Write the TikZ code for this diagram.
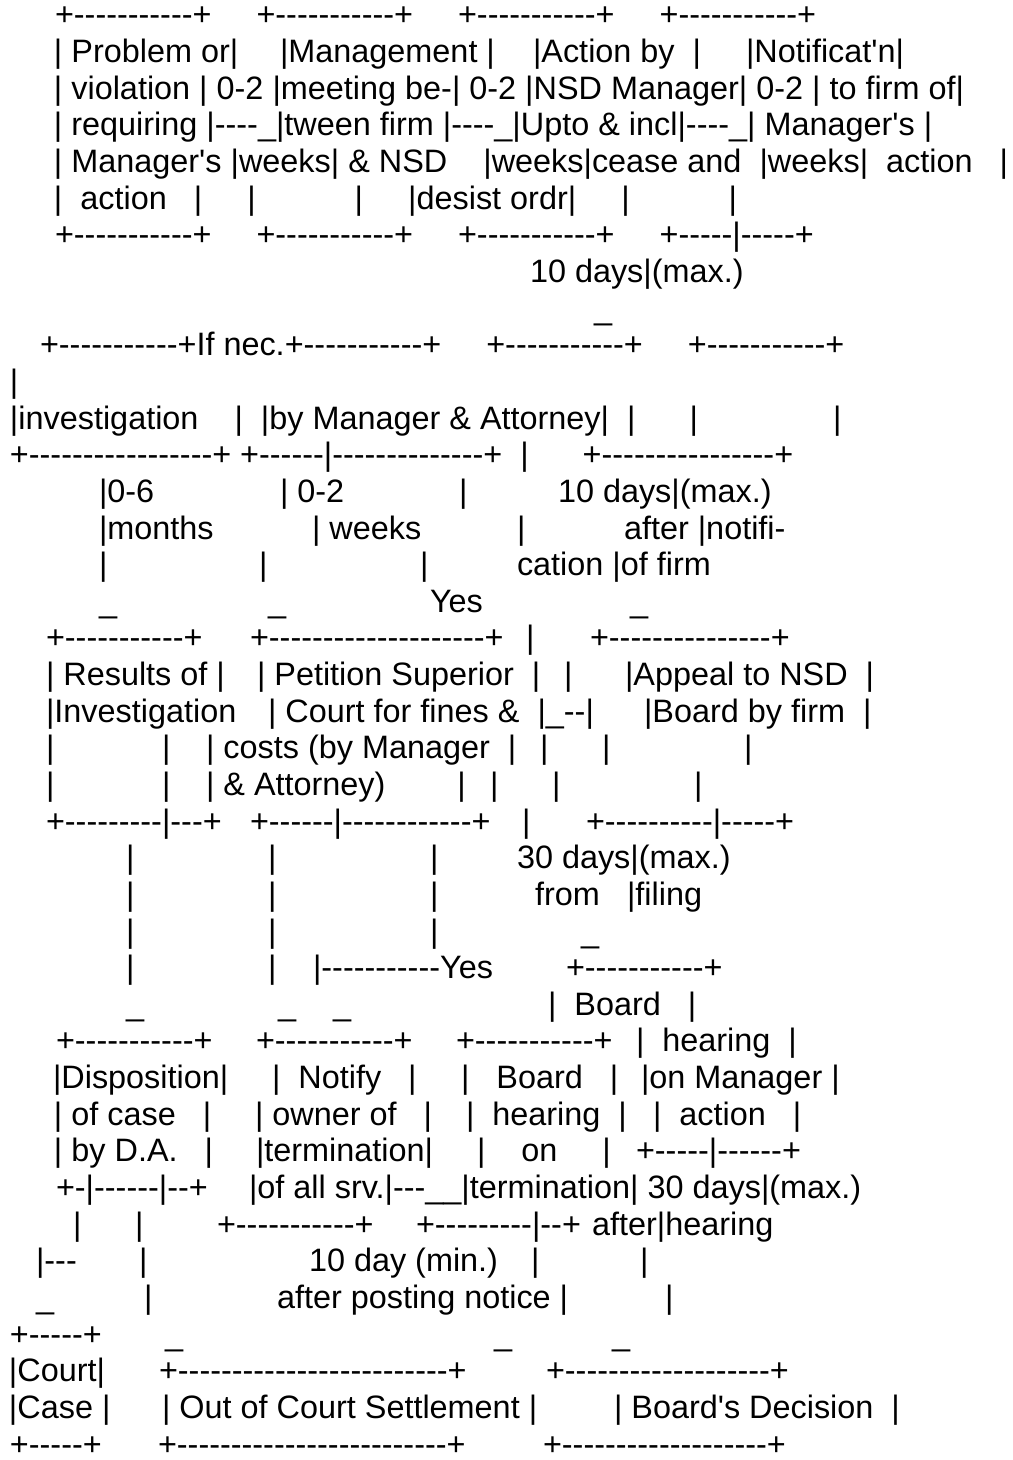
\documentclass[tikz,border=0pt]{standalone}
\usepackage{fontspec}
\newfontfamily\asc{Liberation Sans}
\begin{document}
\begin{tikzpicture}[x=0.5pt,y=-0.5pt,
  txt/.style={anchor=base west,inner sep=0pt,outer sep=0pt,font=\asc\fontsize{16.2pt}{19pt}\selectfont}]
\useasboundingbox[fill=white] (0,0) rectangle (1012,1460);
% 1
\node[txt] (r1) at (55,26) {+-----------+~~~~~+-----------+~~~~~+-----------+~~~~~+-----------+};
% 2
\node[txt] (r2a) at (54,62.6) {|~Problem~or|};
\node[txt] (r2b) at (280,62.6) {|Management~|};
\node[txt] (r2c) at (533,62.6) {|Action~by~~|};
\node[txt] (r2d) at (746,62.6) {|Notificat'n|};
% 3
\node[txt] (r3) at (54,99.3) {|~violation~|~0-2~|meeting~be-|~0-2~|NSD~Manager|~0-2~|~to~firm~of|};
% 4
\node[txt] (r4) at (54,135.9) {|~requiring~|----\_|tween~firm~|----\_|Upto~\&~incl|----\_|~Manager's~|};
% 5
\node[txt] (r5) at (54,172.6) {|~Manager's~|weeks|~\&~NSD~~~~|weeks|cease~and~~|weeks|~~action~~~|};
% 6
\node[txt] (r6) at (54,209.2) {|~~action~~~|~~~~~|~~~~~~~~~~~|~~~~~|desist~ordr|~~~~~|~~~~~~~~~~~|};
% 7
\node[txt] (r7) at (55,245.8) {+-----------+~~~~~+-----------+~~~~~+-----------+~~~~~+-----|-----+};
% 8-9
\node[txt] (r8) at (530,282.5) {10~days|(max.)};
\node[txt] (r9) at (594,319.1) {\_};
% 10
\node[txt] (r10) at (40,355.8) {+-----------+If~nec.+-----------+~~~~~+-----------+~~~~~+-----------+};
% 11
\node[txt] (r11) at (10,392.4) {|};
% 12
\node[txt] (r12) at (10,429) {|investigation~~~~|~~|by~Manager~\&~Attorney|~~|~~~~~~|~~~~~~~~~~~~~~~|};
% 13
\node[txt] (r13) at (10,465.7) {+-----------------+~+------|--------------+~~|~~~~~~+----------------+};
% 14
\node[txt] (r14a) at (99,502.3) {|0-6};
\node[txt] (r14b) at (280,502.3) {|~0-2};
\node[txt] (r14c) at (459,502.3) {|};
\node[txt] (r14d) at (558,502.3) {10~days|(max.)};
% 15
\node[txt] (r15a) at (99,539) {|months};
\node[txt] (r15b) at (312,539) {|~weeks};
\node[txt] (r15c) at (517,539) {|};
\node[txt] (r15d) at (624,539) {after~|notifi-};
% 16
\node[txt] (r16a) at (99,575.6) {|};
\node[txt] (r16b) at (259,575.6) {|};
\node[txt] (r16c) at (420,575.6) {|};
\node[txt] (r16d) at (517,575.6) {cation~|of~firm};
% 17
\node[txt] (r17a) at (99,612.2) {\_};
\node[txt] (r17b) at (268,612.2) {\_};
\node[txt] (r17c) at (430,612.2) {Yes};
\node[txt] (r17d) at (630,612.2) {\_};
% 18
\node[txt] (r18a) at (46,648.9) {+-----------+};
\node[txt] (r18b) at (250,648.9) {+--------------------+};
\node[txt] (r18c) at (526,648.9) {|};
\node[txt] (r18d) at (590,648.9) {+---------------+};
% 19
\node[txt] (r19a) at (46,685.5) {|~Results~of~|};
\node[txt] (r19b) at (257,685.5) {|~Petition~Superior~~|};
\node[txt] (r19c) at (564,685.5) {|};
\node[txt] (r19d) at (625,685.5) {|Appeal~to~NSD~~|};
% 20
\node[txt] (r20a) at (46,722.2) {|Investigation};
\node[txt] (r20b) at (268,722.2) {|~Court~for~fines~\&~~|\_--|};
\node[txt] (r20c) at (644,722.2) {|Board~by~firm~~|};
% 21
\node[txt] (r21a) at (46,758.8) {|};
\node[txt] (r21b) at (162,758.8) {|};
\node[txt] (r21c) at (206,758.8) {|~costs~(by~Manager~~|};
\node[txt] (r21d) at (540,758.8) {|};
\node[txt] (r21e) at (602,758.8) {|};
\node[txt] (r21f) at (744,758.8) {|};
% 22
\node[txt] (r22a) at (46,795.4) {|};
\node[txt] (r22b) at (162,795.4) {|};
\node[txt] (r22c) at (206,795.4) {|~\&~Attorney)~~~~~~~~|};
\node[txt] (r22d) at (490,795.4) {|};
\node[txt] (r22e) at (552,795.4) {|};
\node[txt] (r22f) at (694,795.4) {|};
% 23
\node[txt] (r23a) at (46,832.1) {+---------|---+};
\node[txt] (r23b) at (250,832.1) {+------|------------+};
\node[txt] (r23c) at (522,832.1) {|};
\node[txt] (r23d) at (586,832.1) {+----------|-----+};
% 24
\node[txt] (r24a) at (126,868.7) {|};
\node[txt] (r24b) at (268,868.7) {|};
\node[txt] (r24c) at (430,868.7) {|};
\node[txt] (r24d) at (517,868.7) {30~days|(max.)};
% 25
\node[txt] (r25a) at (126,905.4) {|};
\node[txt] (r25b) at (268,905.4) {|};
\node[txt] (r25c) at (430,905.4) {|};
\node[txt] (r25d) at (535,905.4) {from};
\node[txt] (r25e) at (627,905.4) {|filing};
% 26
\node[txt] (r26a) at (126,942) {|};
\node[txt] (r26b) at (268,942) {|};
\node[txt] (r26c) at (430,942) {|};
\node[txt] (r26d) at (581,942) {\_};
% 27
\node[txt] (r27a) at (126,978.6) {|};
\node[txt] (r27b) at (268,978.6) {|};
\node[txt] (r27c) at (313,978.6) {|-----------Yes};
\node[txt] (r27d) at (566,978.6) {+-----------+};
% 28
\node[txt] (r28a) at (126,1015.3) {\_};
\node[txt] (r28b) at (278,1015.3) {\_};
\node[txt] (r28c) at (333,1015.3) {\_};
\node[txt] (r28d) at (548,1015.3) {|~~Board~~~|};
% 29
\node[txt] (r29a) at (56,1051.9) {+-----------+};
\node[txt] (r29b) at (256,1051.9) {+-----------+};
\node[txt] (r29c) at (456,1051.9) {+-----------+};
\node[txt] (r29d) at (636,1051.9) {|~~hearing~~|};
% 30
\node[txt] (r30a) at (53,1088.6) {|Disposition|};
\node[txt] (r30b) at (272,1088.6) {|~~Notify~~~|};
\node[txt] (r30c) at (461,1088.6) {|~~~Board~~~|};
\node[txt] (r30d) at (641,1088.6) {|on~Manager~|};
% 31
\node[txt] (r31a) at (54,1125.2) {|~of~case~~~|};
\node[txt] (r31b) at (255,1125.2) {|~owner~of~~~|};
\node[txt] (r31c) at (466,1125.2) {|~~hearing~~|};
\node[txt] (r31d) at (653,1125.2) {|~~action~~~|};
% 32
\node[txt] (r32a) at (54,1161.8) {|~by~D.A.~~~|};
\node[txt] (r32b) at (256,1161.8) {|termination|};
\node[txt] (r32c) at (477,1161.8) {|~~~~on~~~~~|};
\node[txt] (r32d) at (636,1161.8) {+-----|------+};
% 33
\node[txt] (r33a) at (56,1198.5) {+-|------|--+};
\node[txt] (r33b) at (249,1198.5) {|of~all~srv.|---\_\_|termination|~30~days|(max.)};
% 34
\node[txt] (r34a) at (73,1235.1) {|};
\node[txt] (r34b) at (135,1235.1) {|};
\node[txt] (r34c) at (217,1235.1) {+-----------+};
\node[txt] (r34d) at (416,1235.1) {+---------|--+};
\node[txt] (r34e) at (592,1235.1) {after|hearing};
% 35
\node[txt] (r35a) at (36,1271.8) {|---};
\node[txt] (r35b) at (139,1271.8) {|};
\node[txt] (r35c) at (309,1271.8) {10~day~(min.)};
\node[txt] (r35d) at (531,1271.8) {|};
\node[txt] (r35e) at (640,1271.8) {|};
% 36
\node[txt] (r36a) at (36,1308.4) {\_};
\node[txt] (r36b) at (144,1308.4) {|};
\node[txt] (r36c) at (277,1308.4) {after~posting~notice~|};
\node[txt] (r36d) at (665,1308.4) {|};
% 37
\node[txt] (r37a) at (10,1345) {+-----+};
\node[txt] (r37b) at (165,1345) {\_};
\node[txt] (r37c) at (494,1345) {\_};
\node[txt] (r37d) at (612,1345) {\_};
% 38
\node[txt] (r38a) at (9,1381.7) {|Court|};
\node[txt] (r38b) at (159,1381.7) {+-------------------------+};
\node[txt] (r38c) at (546,1381.7) {+-------------------+};
% 39
\node[txt] (r39a) at (9,1418.3) {|Case~|};
\node[txt] (r39b) at (162,1418.3) {|~Out~of~Court~Settlement~|};
\node[txt] (r39c) at (614,1418.3) {|~Board's~Decision~~|};
% 40
\node[txt] (r40a) at (10,1455) {+-----+};
\node[txt] (r40b) at (158,1455) {+-------------------------+};
\node[txt] (r40c) at (543,1455) {+-------------------+};
\end{tikzpicture}
\end{document}
